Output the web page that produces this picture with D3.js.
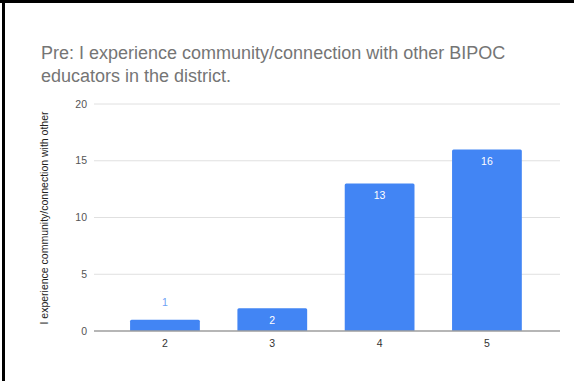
<!DOCTYPE html>
<html><head><meta charset="utf-8">
<script src="https://cdn.jsdelivr.net/npm/d3@7"></script>
<style>
html,body{margin:0;padding:0;background:#fff;}
svg{display:block;}
text{font-family:"Liberation Sans",Arial,sans-serif;}
</style></head>
<body>
<svg id="chart" width="574" height="381"></svg>
<script>
const categories = ["2", "3", "4", "5"];
const values = [1, 2, 13, 16];
const yTicks = [0, 5, 10, 15, 20];
const titleLines = ["Pre: I experience community/connection with other BIPOC", "educators in the district."];
const yAxisTitle = "I experience community/connection with other";

const svg = d3.select("#chart");
// frame borders
svg.append("rect").attr("x",0).attr("y",0).attr("width",574).attr("height",3).attr("fill","#000");
svg.append("rect").attr("x",2).attr("y",0).attr("width",3).attr("height",381).attr("fill","#000");

const y = d3.scaleLinear().domain([0, 20]).range([331, 104]);
const x = d3.scaleBand().domain(categories).range([111.3, 540.6]).paddingInner(0.35).paddingOuter(0.175);

// title
svg.append("g").selectAll("text").data(titleLines).join("text")
  .attr("x", 41).attr("y", (d,i)=>59 + i*22.5)
  .attr("font-size", 18).attr("fill", "#757575").text(d=>d);

// gridlines
svg.append("g").selectAll("line").data(yTicks.filter(t=>t>0)).join("line")
  .attr("x1", 94).attr("x2", 560).attr("y1", d=>y(d)).attr("y2", d=>y(d))
  .attr("stroke", "#e0e0e0").attr("stroke-width", 1);

// y tick labels
svg.append("g").selectAll("text").data(yTicks).join("text")
  .attr("x", 87).attr("y", d=>y(d)).attr("dy", "0.35em").attr("text-anchor","end")
  .attr("font-size", 10.5).attr("fill", "#555").text(d=>d);

// y axis title
svg.append("text").attr("transform", "translate(48,218) rotate(-90)")
  .attr("text-anchor","middle").attr("font-size", 10.5).attr("fill", "#222").text(yAxisTitle);

// bars
const r = 1.5;
svg.append("g").selectAll("path").data(values).join("path")
  .attr("fill", "#4285f4")
  .attr("d", (d,i)=>{
    const x0 = x(categories[i]), w = x.bandwidth(), y0 = y(d), y1 = y(0);
    return `M${x0},${y1}V${y0+r}Q${x0},${y0} ${x0+r},${y0}H${x0+w-r}Q${x0+w},${y0} ${x0+w},${y0+r}V${y1}Z`;
  });

// baseline
svg.append("line").attr("x1", 94).attr("x2", 560).attr("y1", y(0)).attr("y2", y(0))
  .attr("stroke", "#9e9e9e").attr("stroke-width", 1.5);

// value labels
svg.append("g").selectAll("text").data(values).join("text")
  .attr("x", (d,i)=>x(categories[i]) + x.bandwidth()/2)
  .attr("y", d=> (y(0)-y(d) > 20) ? y(d) + 12 : y(d) - 17.5)
  .attr("dy", "0.35em").attr("text-anchor","middle").attr("font-size", 10.5)
  .attr("fill", d=> (y(0)-y(d) > 20) ? "#ffffff" : "#6ea1f5")
  .text(d=>d);

// x tick labels
svg.append("g").selectAll("text").data(categories).join("text")
  .attr("x", d=>x(d) + x.bandwidth()/2).attr("y", 343).attr("dy","0.35em")
  .attr("text-anchor","middle").attr("font-size", 10.5).attr("fill", "#333").text(d=>d);
</script>
</body></html>
